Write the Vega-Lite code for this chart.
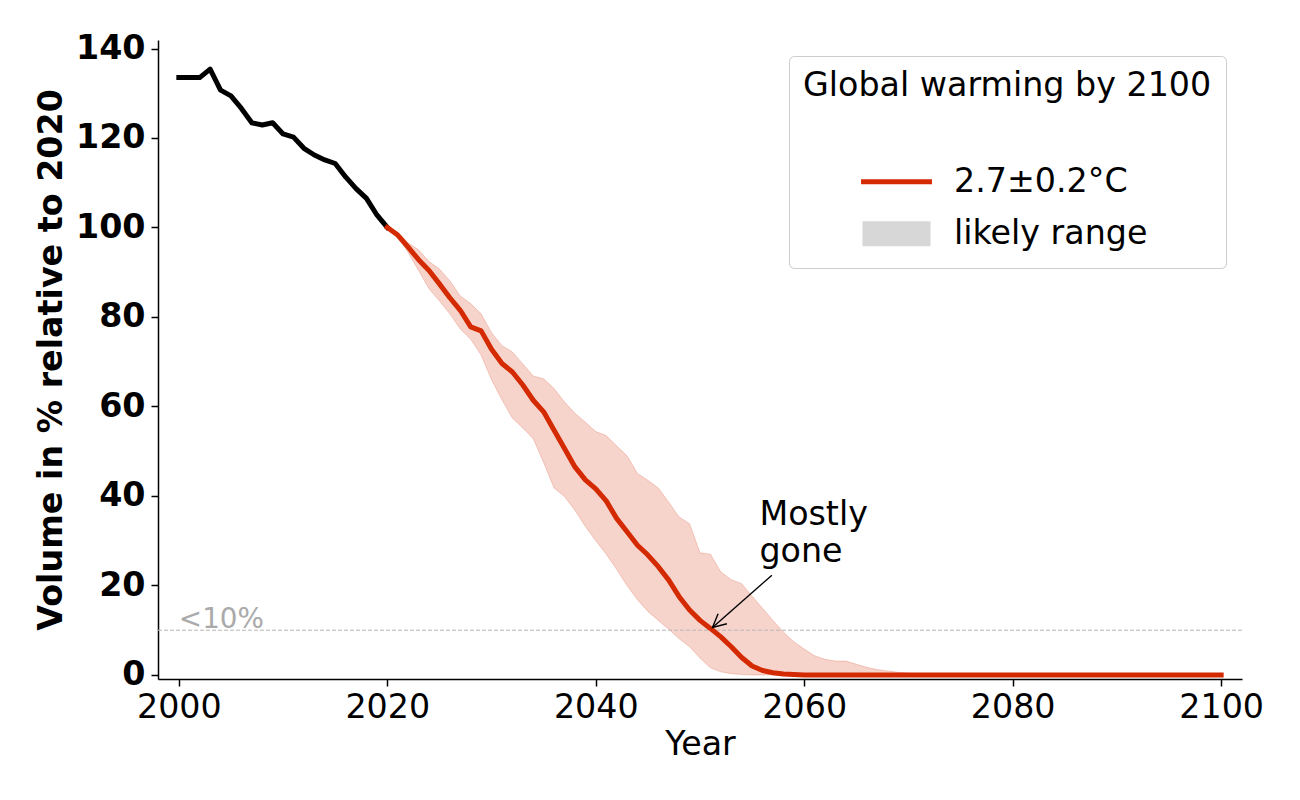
{
  "$schema": "https://vega.github.io/schema/vega-lite/v6.json",
  "width": 1084,
  "height": 639,
  "autosize": {"type": "none"},
  "padding": {"left": 158, "top": 40, "right": 58, "bottom": 121},
  "background": "white",
  "config": {
    "font": "DejaVu Sans",
    "view": {"stroke": null},
    "axis": {
      "grid": false,
      "labelFont": "DejaVu Sans",
      "labelFontSize": 33.3,
      "labelColor": "black",
      "titleFont": "DejaVu Sans",
      "titleFontSize": 33.3,
      "titleFontWeight": "normal",
      "titleColor": "black",
      "domainColor": "black",
      "domainWidth": 1.5,
      "tickColor": "black",
      "tickWidth": 1.5,
      "tickSize": 7
    }
  },
  "datasets": {
    "hist": [
      {"year": 2000, "volume": 133.5}, {"year": 2001, "volume": 133.5}, {"year": 2002, "volume": 133.5},
      {"year": 2003, "volume": 135.4}, {"year": 2004, "volume": 130.7}, {"year": 2005, "volume": 129.4},
      {"year": 2006, "volume": 126.6}, {"year": 2007, "volume": 123.4}, {"year": 2008, "volume": 122.9},
      {"year": 2009, "volume": 123.4}, {"year": 2010, "volume": 120.9}, {"year": 2011, "volume": 120.2},
      {"year": 2012, "volume": 117.7}, {"year": 2013, "volume": 116.2}, {"year": 2014, "volume": 115.1},
      {"year": 2015, "volume": 114.3}, {"year": 2016, "volume": 111.3}, {"year": 2017, "volume": 108.7},
      {"year": 2018, "volume": 106.5}, {"year": 2019, "volume": 102.8}, {"year": 2020, "volume": 100.0}
    ],
    "proj": [
      {"year": 2020, "volume": 100.0, "lower": 100.0, "upper": 100.0},
      {"year": 2021, "volume": 98.3, "lower": 98.0, "upper": 98.8},
      {"year": 2022, "volume": 95.6, "lower": 94.4, "upper": 96.6},
      {"year": 2023, "volume": 92.8, "lower": 90.4, "upper": 95.0},
      {"year": 2024, "volume": 90.4, "lower": 86.3, "upper": 92.4},
      {"year": 2025, "volume": 87.4, "lower": 83.6, "upper": 90.7},
      {"year": 2026, "volume": 84.3, "lower": 80.7, "upper": 88.1},
      {"year": 2027, "volume": 81.5, "lower": 77.3, "upper": 84.7},
      {"year": 2028, "volume": 77.8, "lower": 75.0, "upper": 83.0},
      {"year": 2029, "volume": 76.9, "lower": 71.5, "upper": 80.7},
      {"year": 2030, "volume": 72.8, "lower": 66.0, "upper": 76.5},
      {"year": 2031, "volume": 69.6, "lower": 61.5, "upper": 73.6},
      {"year": 2032, "volume": 67.7, "lower": 57.4, "upper": 72.2},
      {"year": 2033, "volume": 64.8, "lower": 55.2, "upper": 69.5},
      {"year": 2034, "volume": 61.4, "lower": 52.8, "upper": 66.8},
      {"year": 2035, "volume": 58.8, "lower": 47.5, "upper": 66.2},
      {"year": 2036, "volume": 54.7, "lower": 41.8, "upper": 64.0},
      {"year": 2037, "volume": 50.6, "lower": 39.9, "upper": 61.0},
      {"year": 2038, "volume": 46.5, "lower": 36.8, "upper": 58.5},
      {"year": 2039, "volume": 43.6, "lower": 33.2, "upper": 56.5},
      {"year": 2040, "volume": 41.6, "lower": 30.0, "upper": 54.4},
      {"year": 2041, "volume": 38.9, "lower": 27.0, "upper": 53.5},
      {"year": 2042, "volume": 35.0, "lower": 23.6, "upper": 51.2},
      {"year": 2043, "volume": 32.0, "lower": 20.0, "upper": 49.0},
      {"year": 2044, "volume": 29.0, "lower": 16.8, "upper": 45.0},
      {"year": 2045, "volume": 26.8, "lower": 14.2, "upper": 43.5},
      {"year": 2046, "volume": 24.2, "lower": 12.2, "upper": 41.8},
      {"year": 2047, "volume": 21.2, "lower": 10.2, "upper": 38.6},
      {"year": 2048, "volume": 17.5, "lower": 8.1, "upper": 35.3},
      {"year": 2049, "volume": 14.5, "lower": 6.3, "upper": 33.8},
      {"year": 2050, "volume": 12.2, "lower": 3.8, "upper": 27.3},
      {"year": 2051, "volume": 10.4, "lower": 1.6, "upper": 27.0},
      {"year": 2052, "volume": 8.5, "lower": 0.7, "upper": 23.0},
      {"year": 2053, "volume": 6.3, "lower": 0.3, "upper": 21.3},
      {"year": 2054, "volume": 3.9, "lower": 0.1, "upper": 20.4},
      {"year": 2055, "volume": 2.0, "lower": 0.0, "upper": 17.6},
      {"year": 2056, "volume": 1.0, "lower": 0.0, "upper": 14.9},
      {"year": 2057, "volume": 0.5, "lower": 0.0, "upper": 12.2},
      {"year": 2058, "volume": 0.2, "lower": 0.0, "upper": 9.6},
      {"year": 2059, "volume": 0.1, "lower": 0.0, "upper": 7.4},
      {"year": 2060, "volume": 0.0, "lower": 0.0, "upper": 5.8},
      {"year": 2061, "volume": 0.0, "lower": 0.0, "upper": 4.3},
      {"year": 2062, "volume": 0.0, "lower": 0.0, "upper": 3.5},
      {"year": 2063, "volume": 0.0, "lower": 0.0, "upper": 3.1},
      {"year": 2064, "volume": 0.0, "lower": 0.0, "upper": 3.1},
      {"year": 2065, "volume": 0.0, "lower": 0.0, "upper": 2.4},
      {"year": 2066, "volume": 0.0, "lower": 0.0, "upper": 1.7},
      {"year": 2067, "volume": 0.0, "lower": 0.0, "upper": 1.2},
      {"year": 2068, "volume": 0.0, "lower": 0.0, "upper": 0.9},
      {"year": 2069, "volume": 0.0, "lower": 0.0, "upper": 0.6},
      {"year": 2070, "volume": 0.0, "lower": 0.0, "upper": 0.4},
      {"year": 2071, "volume": 0.0, "lower": 0.0, "upper": 0.2},
      {"year": 2072, "volume": 0.0, "lower": 0.0, "upper": 0.1},
      {"year": 2075, "volume": 0.0, "lower": 0.0, "upper": 0.0},
      {"year": 2080, "volume": 0.0, "lower": 0.0, "upper": 0.0},
      {"year": 2085, "volume": 0.0, "lower": 0.0, "upper": 0.0},
      {"year": 2090, "volume": 0.0, "lower": 0.0, "upper": 0.0},
      {"year": 2095, "volume": 0.0, "lower": 0.0, "upper": 0.0},
      {"year": 2100, "volume": 0.0, "lower": 0.0, "upper": 0.0}
    ],
    "arrow": [
      {"x": 2056.9, "y": 22.3, "x2": 2051.2, "y2": 10.6}
    ],
    "legendItems": [
      {"series": "2.7±0.2°C"},
      {"series": "likely range"}
    ]
  },
  "layer": [
    {
      "data": {"name": "proj"},
      "mark": {"type": "area", "color": "#d42a02", "fillOpacity": 0.2, "stroke": "#d42a02", "strokeOpacity": 0.2, "strokeWidth": 1},
      "encoding": {
        "x": {
          "field": "year", "type": "quantitative", "title": "Year",
          "scale": {"domain": [1998, 2102], "nice": false, "zero": false},
          "axis": {"values": [2000, 2020, 2040, 2060, 2080, 2100], "format": "d", "labelPadding": 5, "titlePadding": 5, "labelFlush": false}
        },
        "y": {
          "field": "lower", "type": "quantitative", "title": "Volume in % relative to 2020",
          "scale": {"domain": [-0.9, 141.9], "nice": false, "zero": false},
          "axis": {"values": [0, 20, 40, 60, 80, 100, 120, 140], "labelFontWeight": "bold", "titleFontWeight": "bold", "labelPadding": 6, "titlePadding": 7, "labelFlush": false}
        },
        "y2": {"field": "upper"}
      }
    },
    {
      "data": {"values": [{"level": 10}]},
      "mark": {"type": "rule", "color": "#b8b8b8", "strokeDash": [4, 2], "strokeWidth": 1},
      "encoding": {"y": {"field": "level", "type": "quantitative"}}
    },
    {
      "data": {"name": "hist"},
      "mark": {"type": "line", "color": "black", "strokeWidth": 5, "strokeCap": "square", "strokeJoin": "round"},
      "encoding": {
        "x": {"field": "year", "type": "quantitative", "title": "Year"},
        "y": {"field": "volume", "type": "quantitative", "title": "Volume in % relative to 2020"}
      }
    },
    {
      "data": {"name": "proj"},
      "mark": {"type": "line", "color": "#d42a02", "strokeWidth": 5, "strokeCap": "square", "strokeJoin": "round"},
      "encoding": {
        "x": {"field": "year", "type": "quantitative", "title": "Year"},
        "y": {"field": "volume", "type": "quantitative", "title": "Volume in % relative to 2020"}
      }
    },
    {
      "data": {"values": [{"year": 2000, "level": 10.4, "label": "<10%"}]},
      "mark": {"type": "text", "color": "#aaaaaa", "fontSize": 27.8, "align": "left", "baseline": "alphabetic"},
      "encoding": {
        "x": {"field": "year", "type": "quantitative"},
        "y": {"field": "level", "type": "quantitative"},
        "text": {"field": "label"}
      }
    },
    {
      "data": {"name": "arrow"},
      "mark": {"type": "rule", "color": "black", "strokeWidth": 1.4},
      "encoding": {
        "x": {"field": "x", "type": "quantitative"},
        "y": {"field": "y", "type": "quantitative"},
        "x2": {"field": "x2"},
        "y2": {"field": "y2"}
      }
    },
    {
      "data": {"name": "arrow"},
      "mark": {"type": "point", "shape": "M-1,-0.5L0,0L-1,0.5", "size": 708, "angle": 138.6, "filled": false, "color": "black", "strokeWidth": 1.4, "opacity": 1},
      "encoding": {
        "x": {"field": "x2", "type": "quantitative"},
        "y": {"field": "y2", "type": "quantitative"}
      }
    },
    {
      "data": {"values": [{"year": 2055.7, "level": 33.6}]},
      "mark": {"type": "text", "text": ["Mostly", "gone"], "color": "black", "fontSize": 33.3, "lineHeight": 37.5, "align": "left", "baseline": "alphabetic"},
      "encoding": {
        "x": {"field": "year", "type": "quantitative"},
        "y": {"field": "level", "type": "quantitative"}
      }
    },
    {
      "data": {"name": "legendItems"},
      "mark": {"type": "point", "opacity": 0, "filled": false, "size": 1296, "strokeWidth": 5},
      "encoding": {
        "stroke": {
          "field": "series", "type": "nominal", "title": "Global warming by 2100",
          "scale": {"domain": ["2.7±0.2°C", "likely range"], "range": ["#d42a02", "#d7d7d7"]},
          "legend": {
            "orient": "none", "legendX": 631, "legendY": 16,
            "padding": 14, "cornerRadius": 5, "fillColor": "white", "strokeColor": "#cccccc",
            "titleFont": "DejaVu Sans", "titleFontSize": 33.3, "titleFontWeight": "normal", "titleColor": "black", "titlePadding": 58, "titleLimit": 1000,
            "labelFont": "DejaVu Sans", "labelFontSize": 33.3, "labelColor": "black", "labelLimit": 1000,
            "symbolSize": 1296, "symbolStrokeWidth": 5, "symbolOffset": 73, "labelOffset": 37, "rowPadding": 15
          }
        },
        "shape": {
          "field": "series", "type": "nominal", "title": "Global warming by 2100",
          "scale": {"domain": ["2.7±0.2°C", "likely range"], "range": ["M-1.97,0H1.97", "M-1.89,-0.556H1.89M-1.89,-0.278H1.89M-1.89,0H1.89M-1.89,0.278H1.89M-1.89,0.556H1.89"]}
        }
      }
    }
  ]
}
